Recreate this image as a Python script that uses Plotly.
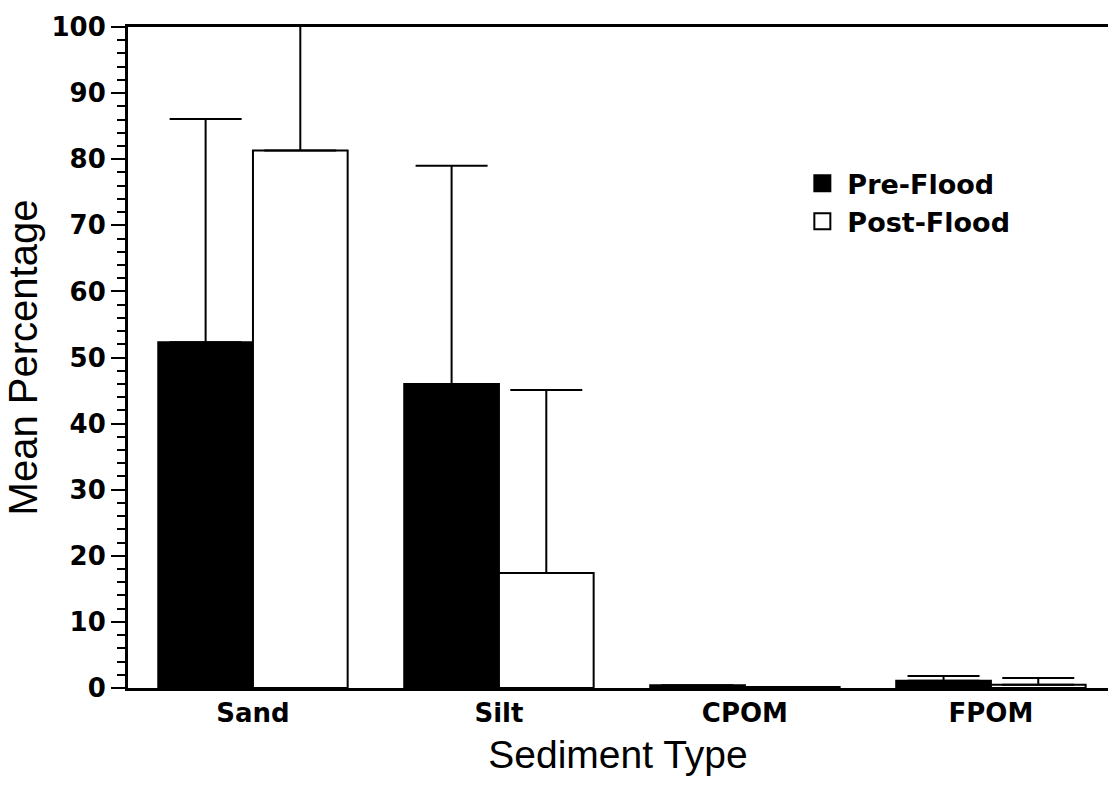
import plotly.graph_objects as go

categories = ["Sand", "Silt", "CPOM", "FPOM"]
pre_flood = [52.3, 46.0, 0.4, 1.1]
pre_err = [33.8, 33.0, None, 0.7]
post_flood = [81.3, 17.4, 0.15, 0.5]
post_err = [25.0, 27.7, None, 1.0]
y_ticks = [0, 10, 20, 30, 40, 50, 60, 70, 80, 90, 100]
series_names = ["Pre-Flood", "Post-Flood"]

BOLD_FONT = "DejaVu Sans, Arial, sans-serif"
TITLE_FONT = "Liberation Sans, Arial, sans-serif"

fig = go.Figure()
fig.add_trace(go.Bar(
    name=series_names[0], x=categories, y=pre_flood, showlegend=False,
    marker=dict(color="black", line=dict(color="black", width=2)),
    error_y=dict(type="data", symmetric=False, array=pre_err,
                 arrayminus=[0] * len(pre_err), color="black",
                 thickness=2, width=36),
))
fig.add_trace(go.Bar(
    name=series_names[1], x=categories, y=post_flood, showlegend=False,
    marker=dict(color="white", line=dict(color="black", width=2)),
    error_y=dict(type="data", symmetric=False, array=post_err,
                 arrayminus=[0] * len(post_err), color="black",
                 thickness=2, width=36),
))
# legend entries (larger square swatches)
fig.add_trace(go.Scatter(
    name=series_names[0], x=[None], y=[None], mode="markers",
    marker=dict(symbol="square", size=24, color="black",
                line=dict(color="black", width=2)),
))
fig.add_trace(go.Scatter(
    name=series_names[1], x=[None], y=[None], mode="markers",
    marker=dict(symbol="square", size=24, color="white",
                line=dict(color="black", width=2)),
))

fig.update_layout(
    width=1108, height=793,
    margin=dict(l=128, r=0, t=27, b=105),
    paper_bgcolor="white", plot_bgcolor="white",
    barmode="group", bargap=0.23, bargroupgap=0,
    font=dict(family=BOLD_FONT, color="black"),
    legend=dict(x=0.683, y=0.80, xanchor="left", yanchor="top",
                font=dict(size=27, family=BOLD_FONT, weight="bold"),
                bgcolor="rgba(0,0,0,0)", tracegroupgap=0,
                itemsizing="trace", itemwidth=40),
    showlegend=True,
)
fig.update_xaxes(
    range=[-0.508, 3.476], showline=True, linecolor="black", linewidth=3,
    mirror=True, ticks="", showgrid=False, zeroline=False,
    tickfont=dict(size=26, family=BOLD_FONT, weight="bold"),
    title=dict(text="Sediment Type", font=dict(size=39, family=TITLE_FONT), standoff=14),
)
fig.update_yaxes(
    range=[0, 100], tickvals=y_ticks, showline=True, linecolor="black",
    linewidth=3, ticks="outside", ticklen=14, tickwidth=2, tickcolor="black",
    minor=dict(dtick=2, ticks="outside", ticklen=8, tickwidth=2, tickcolor="black"),
    showgrid=False, zeroline=False,
    tickfont=dict(size=26, family=BOLD_FONT, weight="bold"),
    title=dict(text="Mean Percentage", font=dict(size=40, family=TITLE_FONT), standoff=2),
)

fig.write_html("out.html")
